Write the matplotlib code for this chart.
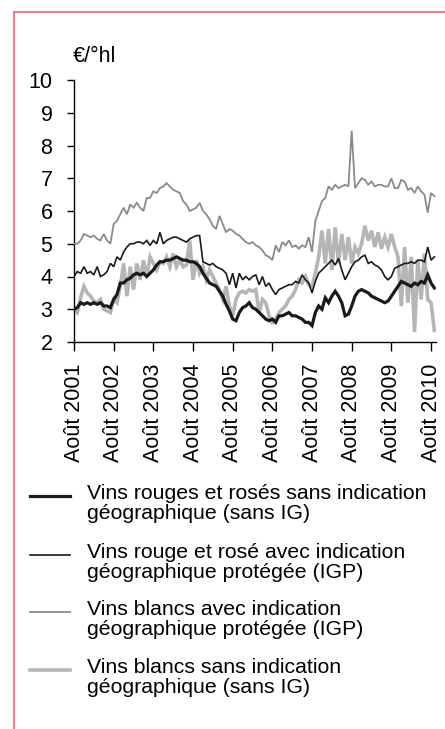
import numpy as np
import matplotlib
matplotlib.use("Agg")
import matplotlib.pyplot as plt
from matplotlib.lines import Line2D

plt.rcParams['font.family'] = ['Liberation Sans', 'DejaVu Sans']

# prix mensuels en €/°hl, août 2001 -> sept 2010 (un point par mois)
rouge_sans_ig = [
    3.0, 3.05, 3.2, 3.15, 3.2, 3.15, 3.2, 3.15, 3.2, 3.1, 3.1, 3.05,
    3.3, 3.45, 3.8, 3.8, 3.9, 3.95, 4.05, 4.1, 4.05, 4.1, 4.0, 4.1,
    4.2, 4.35, 4.45, 4.45, 4.5, 4.5, 4.55, 4.6, 4.55, 4.5, 4.5, 4.45,
    4.45, 4.4, 4.3, 4.1, 3.95, 3.8, 3.75, 3.7, 3.55, 3.4, 3.15, 2.95,
    2.7, 2.65, 2.9, 3.05, 3.1, 3.2, 3.05, 3.0, 2.9, 2.8, 2.7, 2.65,
    2.7, 2.6, 2.8, 2.8, 2.85, 2.9, 2.8, 2.8, 2.75, 2.7, 2.6, 2.6,
    2.5, 2.9, 3.1, 3.0, 3.35, 3.2, 3.4, 3.55, 3.4, 3.2, 2.8, 2.85,
    3.1, 3.4, 3.55, 3.6, 3.55, 3.5, 3.4, 3.35, 3.3, 3.25, 3.2, 3.25,
    3.4, 3.55, 3.7, 3.85, 3.8, 3.75, 3.7, 3.8, 3.75, 3.85, 3.8, 4.05,
    3.8, 3.65,
]
rouge_igp = [
    4.0, 4.15, 4.1, 4.3, 4.1, 4.15, 4.05, 4.3, 4.0, 4.05, 4.15, 4.4,
    4.3, 4.6, 4.5, 4.75, 4.9, 5.0, 5.0, 5.05, 5.05, 5.0, 5.1, 4.95,
    5.1, 5.0, 5.35, 5.0, 5.1, 5.15, 5.2, 5.2, 5.15, 5.1, 5.05, 5.15,
    5.2, 5.25, 5.25, 4.45, 4.4, 4.35, 4.4, 4.3, 4.25, 4.2, 4.1, 3.75,
    4.1, 3.65, 4.1, 3.9, 4.0, 3.9, 4.0, 4.05, 3.75, 4.0, 3.7, 3.8,
    3.6, 3.45, 3.6, 3.65, 3.7, 3.75, 3.75, 3.85, 3.8, 4.05, 3.9, 3.8,
    3.5, 3.85, 4.1, 4.2, 4.3, 4.4, 4.5, 4.35, 4.55, 4.2, 3.9, 4.1,
    4.3, 4.45, 4.5, 4.6, 4.65, 4.4, 4.45, 4.35, 4.3, 4.2, 4.0, 3.9,
    4.0, 4.25, 4.3, 4.35, 4.4, 4.4, 4.45, 4.4, 4.5, 4.5, 4.45, 4.9,
    4.5, 4.6,
]
blanc_igp = [
    5.0, 5.0, 5.1, 5.3, 5.25, 5.2, 5.25, 5.15, 5.1, 5.3, 5.1, 5.0,
    5.6, 5.7, 5.9, 6.1, 5.9, 6.2, 6.1, 6.25, 6.1, 6.0, 6.4, 6.4,
    6.6, 6.55, 6.7, 6.75, 6.85, 6.75, 6.65, 6.6, 6.55, 6.3, 6.2, 6.0,
    6.05, 6.1, 6.25, 6.0, 5.9, 5.75, 5.55, 5.45, 5.85, 5.6, 5.35, 5.45,
    5.4, 5.3, 5.25, 5.15, 5.05, 5.0, 5.05, 4.95, 4.9, 4.8, 4.65, 4.6,
    4.5, 4.95, 4.75, 5.05, 4.95, 5.1, 4.9, 4.95, 4.85, 4.95, 4.9, 5.2,
    4.75, 5.7, 6.0, 6.3, 6.4, 6.75, 6.65, 6.8, 6.7, 6.75, 6.8, 6.75,
    8.45, 6.7, 6.85, 7.0, 6.95, 6.8, 6.9, 6.75, 6.8, 6.8, 6.75, 6.75,
    7.0, 6.7, 6.7, 6.95, 6.9, 6.65, 6.7, 6.55, 6.75, 6.6, 6.5, 5.95,
    6.55, 6.45,
]
blanc_sans_ig = [
    3.0, 2.9, 3.35, 3.7, 3.5, 3.4, 3.25, 3.2, 3.3, 3.0, 2.95, 2.9,
    3.3, 3.2, 3.7, 4.4, 3.4, 4.3, 3.6, 4.4, 3.9, 4.5, 4.0, 4.6,
    4.4, 4.2, 4.45, 4.4, 4.6, 4.3, 4.7, 4.3, 4.5, 4.3, 4.35, 5.1,
    3.9, 4.5, 4.1, 4.3, 3.9, 4.2, 4.0, 3.8, 3.6, 3.3, 3.7, 3.1,
    2.8, 3.3, 3.5, 3.55, 3.5, 3.6, 3.55, 3.6, 2.9, 3.3, 3.2, 2.8,
    2.6, 2.7, 2.9, 3.0, 3.1, 3.3, 3.4, 3.6, 3.9, 3.8, 4.0, 3.75,
    3.7, 4.1, 4.6, 5.4, 4.4, 5.45, 4.2, 5.5, 4.4, 5.3, 4.5, 5.2,
    4.4, 4.9, 4.7, 5.0, 5.55, 5.1, 5.4, 4.9, 5.35, 4.85, 5.2, 4.9,
    5.3, 4.9, 4.6, 3.1, 4.9, 3.2, 4.6, 2.3, 4.5, 3.3, 4.7, 3.3,
    3.2, 2.35,
]

annees = list(range(2001, 2011))
etiquettes_x = [f"Août {a}" for a in annees]
libelles = [
    "Vins rouges et rosés sans indication\ngéographique (sans IG)",
    "Vins rouge et rosé avec indication\ngéographique protégée (IGP)",
    "Vins blancs avec indication\ngéographique protégée (IGP)",
    "Vins blancs sans indication\ngéographique (sans IG)",
]

W, H = 445, 729
fig = plt.figure(figsize=(W / 100, H / 100), dpi=100)
ax = fig.add_axes([74 / W, 1 - 342 / H, 362 / W, 262 / H])

mois = np.arange(len(rouge_sans_ig))
styles = [
    (rouge_sans_ig, '#1a1a1a', 2.3, 5),
    (rouge_igp, '#1a1a1a', 1.2, 4),
    (blanc_igp, '#8a8a8a', 1.3, 3),
    (blanc_sans_ig, '#b5b5b7', 2.6, 2),
]
for serie, coul, lw, z in styles:
    ax.plot(mois, serie, color=coul, lw=lw, zorder=z, solid_joinstyle='miter')

ax.set_xlim(0, 109.5)
ax.set_ylim(2, 10)
ax.set_yticks(range(2, 11))
ax.set_xticks(np.arange(0, 12 * len(annees), 12))
ax.set_xticklabels(etiquettes_x, rotation=90)
ax.tick_params(axis='y', direction='out', length=5, width=1, pad=10.5, labelsize=15.5)
ax.tick_params(axis='x', direction='out', length=6.5, width=1, pad=9, labelsize=15.5)
for s in ['top', 'right']:
    ax.spines[s].set_visible(False)
for s in ['left', 'bottom']:
    ax.spines[s].set_linewidth(1)

fig.text(73 / W, 1 - 57 / H, "€/°hl", fontsize=15.5, ha='left', va='center')

# légende faite à la main : trait aligné sur la première ligne du texte
y_leg = [496, 555, 612, 670]
for (serie, coul, lw, z), lab, yl in zip(styles, libelles, y_leg):
    fig.add_artist(Line2D([30 / W, 70 / W], [1 - yl / H] * 2, color=coul, lw=lw))
    fig.text(87 / W, 1 - (yl - 12) / H, lab, fontsize=15.3, ha='left', va='top',
             linespacing=1.05)

# cadre rose
rose = '#ee6f82'
fig.add_artist(Line2D([14 / W, 14 / W], [1 - 12 / H, 0], color=rose, lw=1.3))
fig.add_artist(Line2D([14 / W, 1], [1 - 12 / H, 1 - 12 / H], color=rose, lw=1.3))

fig.savefig("out.png", dpi=100)
